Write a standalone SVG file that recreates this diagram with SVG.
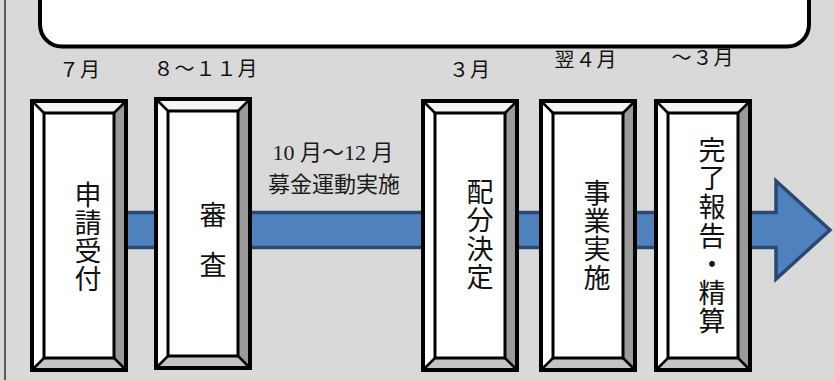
<svg xmlns="http://www.w3.org/2000/svg" xmlns:xlink="http://www.w3.org/1999/xlink" width="834" height="380" viewBox="0 0 834 380">
<style>
.lbl{font-family:"Noto Sans CJK JP","Noto Sans",sans-serif;font-size:20px;fill:#111;text-anchor:middle;letter-spacing:1px}
.vt{font-family:"Noto Sans CJK JP","Noto Sans",sans-serif;font-size:27px;fill:#111;writing-mode:tb;text-anchor:start}
.mid{font-family:"Liberation Serif","Noto Sans CJK JP",serif;font-size:22px;fill:#1a1a1a;text-anchor:middle}
.edge{stroke:#000;stroke-linejoin:miter}
</style>
<defs>
<g id="frame">
<polygon points="0,0 94,0 82,12 12,12" fill="#f4f4f4"/>
<polygon points="0,0 12,12 12,257 0,269" fill="#ffffff"/>
<polygon points="94,0 94,269 82,257 82,12" fill="#9a9a9a"/>
<polygon points="0,269 94,269 82,257 12,257" fill="#c4c4c4"/>
<rect x="12" y="12" width="70" height="245" fill="#ffffff" class="edge" stroke-width="3"/>
<g class="edge" stroke-width="2.5">
<line x1="0" y1="0" x2="12" y2="12"/>
<line x1="94" y1="0" x2="82" y2="12"/>
<line x1="0" y1="269" x2="12" y2="257"/>
<line x1="94" y1="269" x2="82" y2="257"/>
</g>
<rect x="0" y="0" width="94" height="269" fill="none" class="edge" stroke-width="4"/>
</g>
</defs>
<rect x="0" y="0" width="834" height="380" fill="#d9d9d9"/>
<line x1="5" y1="0" x2="5" y2="380" stroke="#3a3a3a" stroke-width="1.6"/>
<g id="header">
<rect x="40" y="-50" width="769" height="96.5" rx="22" ry="22" fill="#ffffff" stroke="#000" stroke-width="4"/>
</g>
<g id="connectors">
<polygon points="60,212.5 776,212.5 776,181 830,230 776,279 776,247.5 60,247.5" fill="#4f81bd" stroke="#2a4872" stroke-width="3.5" stroke-linejoin="miter"/>
</g>
<g id="label-mid">
<text class="mid" x="333" y="160">10 月～12 月</text>
<text class="mid" x="334" y="192">募金運動実施</text>
</g>
<g id="node-1">
<use xlink:href="#frame" x="32" y="101"/>
<text class="lbl" x="80" y="77">７月</text>
<text class="vt" x="88" y="181" letter-spacing="1">申請受付</text>
</g>
<g id="node-2">
<use xlink:href="#frame" x="156" y="99"/>
<text class="lbl" x="206" y="76">８～１１月</text>
<text class="vt" x="213" y="201">審</text>
<text class="vt" x="213" y="251">査</text>
</g>
<g id="node-3">
<use xlink:href="#frame" x="423" y="101"/>
<text class="lbl" x="470" y="77">３月</text>
<text class="vt" x="480" y="178" letter-spacing="1.5">配分決定</text>
</g>
<g id="node-4">
<use xlink:href="#frame" x="541" y="101"/>
<text class="lbl" x="586" y="67">翌４月</text>
<text class="vt" x="597" y="179" letter-spacing="1.3">事業実施</text>
</g>
<g id="node-5">
<use xlink:href="#frame" x="656" y="101"/>
<text class="lbl" x="703" y="65">～３月</text>
<text class="vt" x="712" y="136" letter-spacing="1.6">完了報告・精算</text>
</g>
</svg>
